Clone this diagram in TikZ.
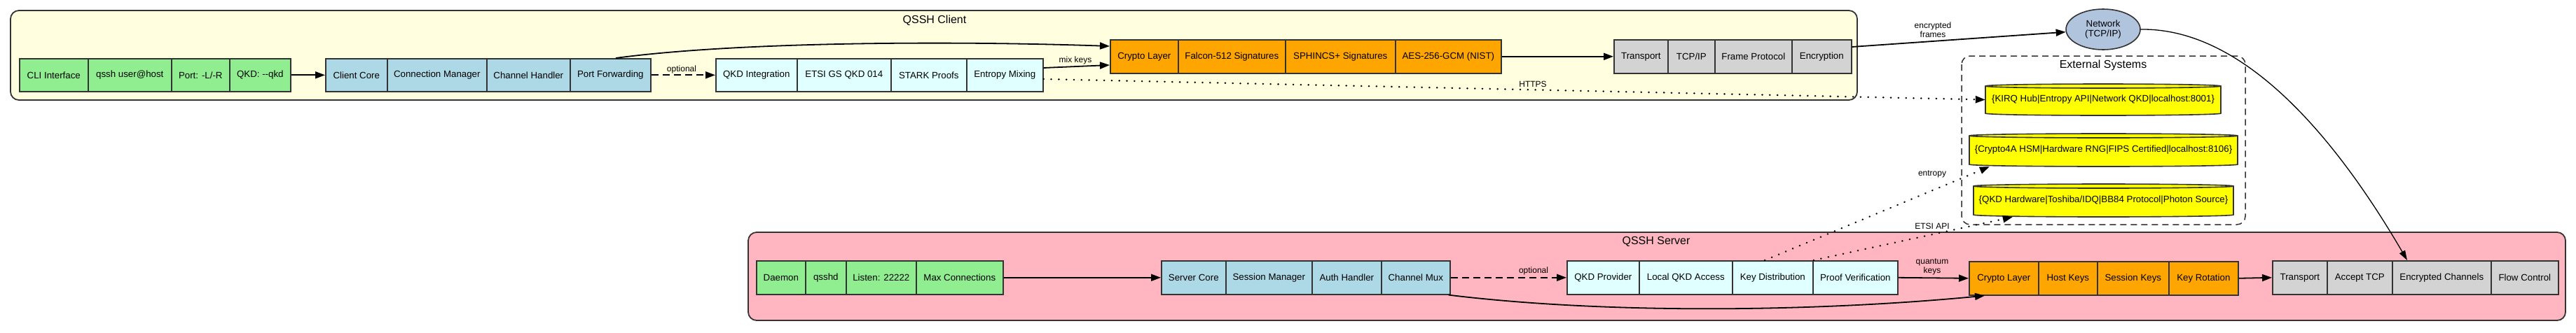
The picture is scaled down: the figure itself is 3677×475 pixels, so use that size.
\documentclass[tikz,border=0pt]{standalone}
\usepackage{fontspec}
\setmainfont{Liberation Sans}
\usetikzlibrary{arrows.meta,shapes.geometric,calc}
\definecolor{cyellow}{HTML}{FFFFE0}
\definecolor{cpink}{HTML}{FFB6C1}
\definecolor{cgreen}{HTML}{90EE90}
\definecolor{cblue}{HTML}{ADD8E6}
\definecolor{ccyan}{HTML}{E0FFFF}
\definecolor{corange}{HTML}{FFA500}
\definecolor{cgray}{HTML}{D3D3D3}
\definecolor{csteel}{HTML}{B0C4DE}
\definecolor{cyel}{HTML}{FFFF00}
\definecolor{cborder}{HTML}{333333}
\newcommand{\drawcyl}[5]{%
  \path[fill=cyel, draw=cborder, line width=1.6pt] (#1,#3+3) -- (#1,#4-3)
    arc[start angle=180,end angle=360,x radius=#5pt,y radius=3pt] -- (#2,#3+3)
    arc[start angle=0,end angle=180,x radius=#5pt,y radius=3pt] -- cycle;
  \draw[cborder, line width=1.6pt] (#1,#3+3) arc[start angle=180,end angle=360,x radius=#5pt,y radius=3pt];
}
\begin{document}
\begin{tikzpicture}[x=1pt,y=-1pt,
  cluster/.style={draw=cborder, line width=1.8pt, rounded corners=12pt},
  field/.style={draw=cborder, line width=1.6pt, rectangle, inner sep=0pt, anchor=north west, font=\fontsize{13.3}{16}\selectfont},
  crow/.style={field, minimum height=47pt},
  srow/.style={field, minimum height=48pt},
  cylnode/.style={inner sep=0pt, font=\fontsize{13.3}{16}\selectfont},
  title/.style={inner sep=0pt, font=\fontsize{16}{19}\selectfont},
  elabel/.style={inner sep=0pt, align=center, font=\fontsize{12}{13.5}\selectfont},
  conn/.style={draw=black, line width=1.8pt, -{Triangle[length=14pt,width=10pt]}},
  dashconn/.style={conn, dash pattern=on 10pt off 6pt},
  dotconn/.style={draw=black, line width=2.5pt, line cap=round, dash pattern=on 0.3pt off 10.5pt, -{Triangle[length=14pt,width=10pt]}},
  thinconn/.style={draw=black, line width=1.3pt, -{Triangle[length=14pt,width=9pt]}}
]
\useasboundingbox (0,0) rectangle (3677,475);
\fill[white] (0,0) rectangle (3677,475);

% clusters
\draw[cluster, fill=cyellow] (15,15) rectangle (2651,143);
\node[title] (tclient) at (1334,29) {QSSH Client};
\draw[cluster, fill=cpink] (1068,332) rectangle (3662,458);
\node[title] (tserver) at (2364,345) {QSSH Server};
\draw[draw=cborder, line width=1.5pt, rounded corners=12pt, dash pattern=on 9pt off 6pt] (2800,80) rectangle (3205,321);
\node[title] (text) at (3002,93) {External Systems};

% client rows
\node[crow, fill=cgreen, minimum width=98pt] (cli) at (27,83) {CLI Interface};
\node[crow, fill=cgreen, minimum width=119pt] (qsshuser) at (125,83) {qssh user@host};
\node[crow, fill=cgreen, minimum width=83pt] (portopt) at (244,83) {Port: -L/-R};
\node[crow, fill=cgreen, minimum width=87pt] (qkdopt) at (327,83) {QKD: -{}-qkd};

\node[crow, fill=cblue, minimum width=88pt] (ccore) at (464,83) {Client Core};
\node[crow, fill=cblue, minimum width=142pt] (connmgr) at (552,83) {Connection Manager};
\node[crow, fill=cblue, minimum width=119pt] (chanh) at (694,83) {Channel Handler};
\node[crow, fill=cblue, minimum width=115pt] (portfwd) at (813,83) {Port Forwarding};

\node[crow, fill=ccyan, minimum width=116pt] (qkdint) at (1021,83) {QKD Integration};
\node[crow, fill=ccyan, minimum width=134pt] (etsi) at (1137,83) {ETSI GS QKD 014};
\node[crow, fill=ccyan, minimum width=108pt] (stark) at (1271,83) {STARK Proofs};
\node[crow, fill=ccyan, minimum width=109pt] (entmix) at (1379,83) {Entropy Mixing};

\node[srow, fill=corange, minimum width=97pt] (ccrypto) at (1584,56) {Crypto Layer};
\node[srow, fill=corange, minimum width=153pt] (falcon) at (1681,56) {Falcon-512 Signatures};
\node[srow, fill=corange, minimum width=157pt] (sphincs) at (1834,56) {SPHINCS+ Signatures};
\node[srow, fill=corange, minimum width=151pt] (aes) at (1991,56) {AES-256-GCM (NIST)};

\node[srow, fill=cgray, minimum width=77pt] (ctrans) at (2303,56) {Transport};
\node[srow, fill=cgray, minimum width=67pt] (tcpip) at (2380,56) {TCP/IP};
\node[srow, fill=cgray, minimum width=110pt] (frame) at (2447,56) {Frame Protocol};
\node[srow, fill=cgray, minimum width=85pt] (encr) at (2557,56) {Encryption};

% server rows
\node[srow, fill=cgreen, minimum width=70pt] (daemon) at (1079,372) {Daemon};
\node[srow, fill=cgreen, minimum width=58pt] (qsshd) at (1149,372) {qsshd};
\node[srow, fill=cgreen, minimum width=100pt] (listen) at (1207,372) {Listen: 22222};
\node[srow, fill=cgreen, minimum width=124pt] (maxconn) at (1307,372) {Max Connections};

\node[srow, fill=cblue, minimum width=92pt] (score) at (1657,372) {Server Core};
\node[srow, fill=cblue, minimum width=123pt] (sessmgr) at (1749,372) {Session Manager};
\node[srow, fill=cblue, minimum width=99pt] (auth) at (1872,372) {Auth Handler};
\node[srow, fill=cblue, minimum width=98pt] (chanmux) at (1971,372) {Channel Mux};

\node[srow, fill=ccyan, minimum width=103pt] (qkdprov) at (2236,372) {QKD Provider};
\node[srow, fill=ccyan, minimum width=133pt] (localqkd) at (2339,372) {Local QKD Access};
\node[srow, fill=ccyan, minimum width=115pt] (keydist) at (2472,372) {Key Distribution};
\node[srow, fill=ccyan, minimum width=121pt] (proofver) at (2587,372) {Proof Verification};

\node[srow, fill=corange, minimum width=99pt] (scrypto) at (2810,373) {Crypto Layer};
\node[srow, fill=corange, minimum width=84pt] (hostkeys) at (2909,373) {Host Keys};
\node[srow, fill=corange, minimum width=102pt] (sesskeys) at (2993,373) {Session Keys};
\node[srow, fill=corange, minimum width=99pt] (keyrot) at (3095,373) {Key Rotation};

\node[srow, fill=cgray, minimum width=78pt] (strans) at (3243,372) {Transport};
\node[srow, fill=cgray, minimum width=93pt] (accept) at (3321,372) {Accept TCP};
\node[srow, fill=cgray, minimum width=141pt] (encch) at (3414,372) {Encrypted Channels};
\node[srow, fill=cgray, minimum width=96pt] (flow) at (3555,372) {Flow Control};

% network
\node[ellipse, draw=cborder, line width=1.6pt, fill=csteel, minimum width=106pt, minimum height=58pt, inner sep=0pt, align=center, font=\fontsize{13.3}{14}\selectfont] (network) at (3002,42) {Network\\(TCP/IP)};

% external systems
\drawcyl{2834}{3170}{120}{165}{168}
\node[cylnode, minimum width=336pt, minimum height=45pt] (kirq) at (3002,142.5) {\{KIRQ Hub|Entropy API|Network QKD|localhost:8001\}};
\drawcyl{2811}{3194}{191}{238}{191.5}
\node[cylnode, minimum width=383pt, minimum height=47pt] (c4a) at (3002.5,214.5) {\{Crypto4A HSM|Hardware RNG|FIPS Certified|localhost:8106\}};
\drawcyl{2817}{3188}{263}{310}{185.5}
\node[cylnode, minimum width=371pt, minimum height=47pt] (qkdhw) at (3002.5,286.5) {\{QKD Hardware|Toshiba/IDQ|BB84 Protocol|Photon Source\}};

% labels
\node[elabel] (lopt1) at (973,99) {optional};
\node[elabel] (lmix) at (1535,86) {mix keys};
\node[elabel] (lhttps) at (2188,120) {HTTPS};
\node[elabel] (lenc) at (2759,42.5) {encrypted\\frames};
\node[elabel] (lopt2) at (2189,387) {optional};
\node[elabel] (lqk) at (2758,381.5) {quantum\\keys};
\node[elabel] (lent) at (2758,249) {entropy};
\node[elabel] (letsi) at (2758,323) {ETSI API};

% client edges
\draw[conn] (qkdopt.east) -- (ccore.west);
\draw[dashconn] (portfwd.east) -- (qkdint.west);
\draw[conn] ($(portfwd.north west)+(66,0)$) .. controls (1050,60) and (1350,58) .. ($(ccrypto.north west)+(0,10)$);
\draw[conn] ($(entmix.north east)+(0,14)$) -- ($(ccrypto.north west)+(0,37)$);
\draw[conn] (aes.east) -- (ctrans.west);
\draw[conn] ($(encr.north east)+(0,11)$) -- (network);
\draw[dotconn] ($(entmix.north east)+(0,30)$) -- (kirq.west);

% server edges
\draw[conn] (maxconn.east) -- (score.west);
\draw[dashconn] (chanmux.east) -- (qkdprov.west);
\draw[conn] ($(chanmux.south east)+(-3,0)$) .. controls (2300,450) and (2600,445) .. ($(scrypto.south west)+(23,0)$);
\draw[conn] (proofver.east) -- (scrypto.west);
\draw[conn] (keyrot.east) -- (strans.west);
\draw[dotconn] ($(keydist.north west)+(47,0)$) -- ($(c4a.south west)+(29,0)$);
\draw[dotconn] (keydist.north east) -- ($(qkdhw.south west)+(56,0)$);
\draw[thinconn] (network.east) .. controls (3200,40) and (3330,190) .. ($(encch.north west)+(22,0)$);
\end{tikzpicture}
\end{document}
